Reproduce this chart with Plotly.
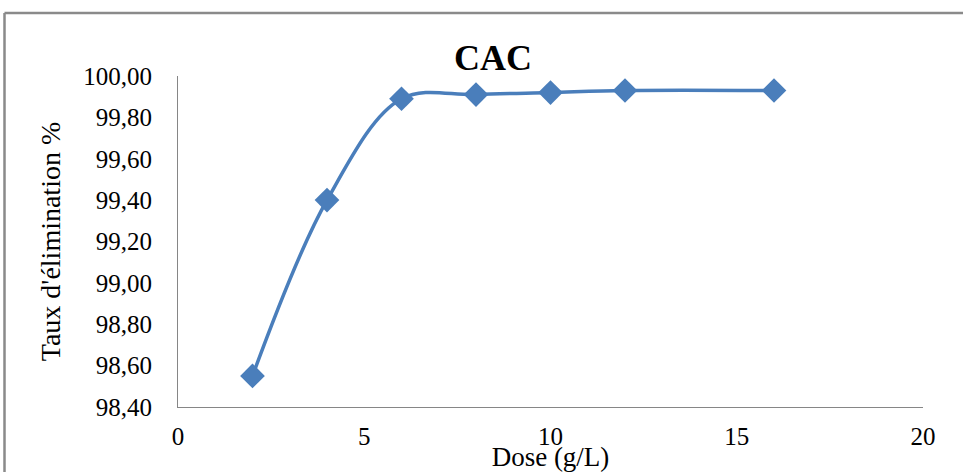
import plotly.graph_objects as go

dose = [2, 4, 6, 8, 10, 12, 16]
taux = [98.55, 99.40, 99.89, 99.91, 99.92, 99.93, 99.93]
y_ticks = [98.4, 98.6, 98.8, 99.0, 99.2, 99.4, 99.6, 99.8, 100.0]
x_ticks = [0, 5, 10, 15, 20]

W, H = 963, 472
L, R, T, B = 178, 40, 76, 65
pw, ph = W - L - R, H - T - B

font = "Liberation Serif, Times New Roman, serif"
blue = "#4A7EBB"

fig = go.Figure()
fig.add_trace(go.Scatter(
    x=dose, y=taux, mode="lines+markers",
    line=dict(color=blue, width=3.5, shape="spline", smoothing=1),
    marker=dict(symbol="diamond", size=19, color=blue),
    showlegend=False, cliponaxis=False,
))

def px_x(p):
    return (p - L) / pw

def px_y(p):
    return (H - B - p) / ph

fig.update_layout(
    width=W, height=H,
    margin=dict(l=L, r=R, t=T, b=B),
    paper_bgcolor="white", plot_bgcolor="white",
    separators=",.",
    font=dict(family=font, color="black", size=25),
    title=dict(text="<b>CAC</b>", x=493 / W, xanchor="center", xref="container",
               y=1 - 57 / H, yanchor="middle", yref="container",
               font=dict(family=font, size=36, color="black")),
    xaxis=dict(range=[0, 20], tickvals=x_ticks, showgrid=False, zeroline=False,
               showline=True, linecolor="#868686", linewidth=1, ticks="",
               ticklabelstandoff=7, automargin=False,
               title=dict(text="Dose (g/L)", standoff=9, font=dict(size=27))),
    yaxis=dict(range=[98.4, 100.0], tickvals=y_ticks, tickformat=".2f", showgrid=False,
               zeroline=False, showline=True, linecolor="#868686", linewidth=1, ticks="",
               ticklabelstandoff=20, automargin=False,
               title=dict(text="Taux d'élimination %", standoff=14, font=dict(size=28))),
    shapes=[
        dict(type="line", xref="paper", yref="paper",
             x0=px_x(4.5), x1=px_x(975), y0=px_y(13), y1=px_y(13),
             line=dict(color="#8A8A8A", width=2.5)),
        dict(type="line", xref="paper", yref="paper",
             x0=px_x(4.5), x1=px_x(4.5), y0=px_y(13), y1=px_y(485),
             line=dict(color="#8A8A8A", width=2.5)),
    ],
)

fig.write_html("out.html")
